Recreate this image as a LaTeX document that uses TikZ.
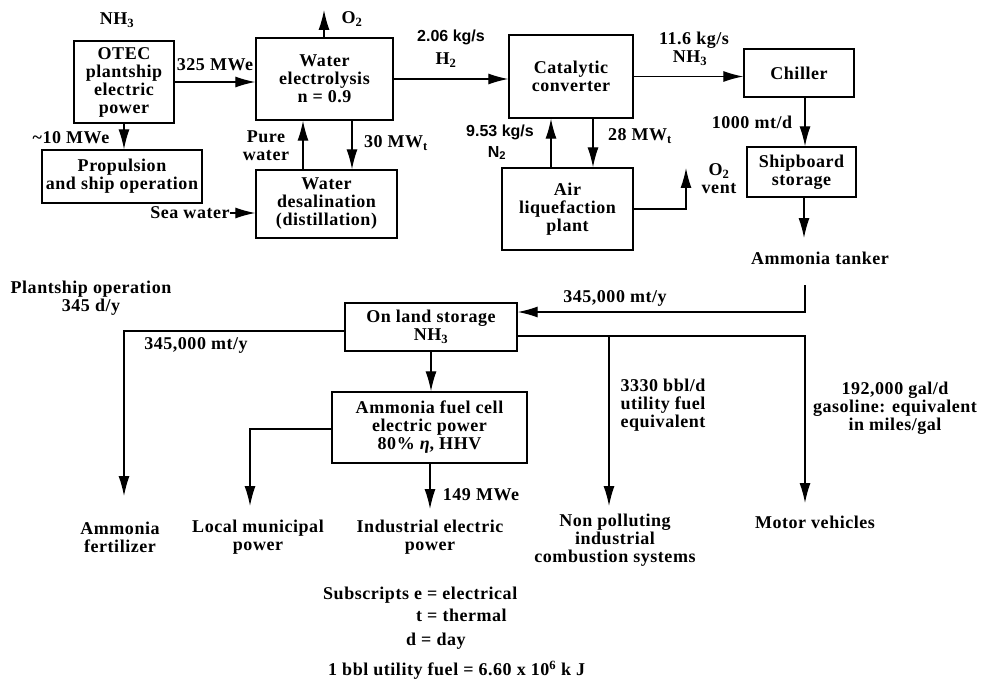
\documentclass[tikz,border=0pt]{standalone}
\usepackage{fontspec}
\setmainfont{Liberation Serif}[LetterSpace=3]
\newfontfamily\helv{Liberation Sans}
\usetikzlibrary{arrows.meta,positioning}

\tikzset{
  unit/.style={draw, line width=1.4pt, align=center, inner sep=0pt,
    font=\bfseries\fontsize{18}{18}\selectfont},
  lbl/.style={align=center, inner sep=0pt, font=\bfseries\fontsize{18}{18}\selectfont},
  slbl/.style={align=center, inner sep=0pt, font=\helv\bfseries\fontsize{16}{17}\selectfont},
  flow/.style={-{Latex[length=20pt,width=11pt]}, line width=1.3pt},
}

\begin{document}
\begin{tikzpicture}[x=1pt, y=-1pt]
        \useasboundingbox (0,0) rectangle (982,679);

        % 船上设备
        \node[unit, minimum width=100pt, minimum height=82pt] (otec) at (124,82) {OTEC\\plantship\\electric\\power};
        \node[unit, minimum width=137pt, minimum height=82pt] (elec) at (324.5,79) {Water\\electrolysis\\n = 0.9};
        \node[unit, minimum width=160pt, minimum height=53pt] (prop) at (122,176.5) {Propulsion\\and ship operation};
        \node[unit, minimum width=141pt, minimum height=68pt] (desal) at (326.5,204) {Water\\desalination\\(distillation)};
        \node[unit, minimum width=124pt, minimum height=83pt] (cat) at (571,76.5) {Catalytic\\converter};
        \node[unit, minimum width=131pt, minimum height=82pt] (air) at (567.5,209) {Air\\liquefaction\\plant};
        \node[unit, minimum width=110pt, minimum height=48pt] (chill) at (799,73) {Chiller};
        \node[unit, minimum width=109pt, minimum height=50pt] (ship) at (801.5,172) {Shipboard\\storage};

        % 陆上设备
        \node[unit, minimum width=172pt, minimum height=48pt] (land) at (431,327) {On land storage\\NH\textsubscript{3}};
        \node[unit, minimum width=195pt, minimum height=71pt] (fuel) at (429.5,427.5) {Ammonia fuel cell\\electric power\\80\% \textit{η}, HHV};

        % 标注
        \node[lbl] (nhtop) at (117,20) {NH\textsubscript{3}};
        \node[lbl] (mwa) at (215,65) {325 MWe};
        \node[lbl] (mwb) at (71,138) {\textasciitilde10 MWe};
        \node[lbl] (otwo) at (352,19) {O\textsubscript{2}};
        \node[lbl] (pure) at (266,146) {Pure\\water};
        \node[lbl] (mwc) at (396,143) {30 MW\textsubscript{t}};
        \node[lbl] (sea) at (190,213) {Sea water};
        \node[slbl] (hrate) at (451,37) {2.06 kg/s};
        \node[lbl] (htwo) at (446,60) {H\textsubscript{2}};
        \node[slbl] (nrate) at (500,132) {9.53 kg/s};
        \node[slbl] (ntwo) at (497,153) {N\textsubscript{2}};
        \node[lbl] (mwd) at (640,136) {28 MW\textsubscript{t}};
        \node[lbl] (vent) at (719,179) {O\textsubscript{2}\\vent};
        \node[lbl] (arate) at (694,40) {11.6 kg/s};
        \node[lbl] (nhmid) at (690,58) {NH\textsubscript{3}};
        \node[lbl] (daily) at (752,122) {1000 mt/d};
        \node[lbl] (tanker) at (820,258) {Ammonia tanker};
        \node[lbl] (oper) at (91,298) {Plantship operation\\345 d/y};
        \node[lbl] (yra) at (615,298) {345,000 mt/y};
        \node[lbl] (yrb) at (196,345) {345,000 mt/y};
        \node[lbl] (bbl) at (663,405) {3330 bbl/d\\utility fuel\\equivalent};
        \node[lbl] (gal) at (895,408) {192,000 gal/d\\gasoline: equivalent\\in miles/gal};
        \node[lbl] (mwe) at (481,495) {149 MWe};

        % 用途
        \node[lbl] (fert) at (120,537) {Ammonia\\fertilizer};
        \node[lbl] (muni) at (258,537) {Local municipal\\power};
        \node[lbl] (indus) at (430,537) {Industrial electric\\power};
        \node[lbl] (nonpol) at (615,540) {Non polluting\\industrial\\combustion systems};
        \node[lbl] (motor) at (815,522) {Motor vehicles};

        % 说明
        \node[lbl, anchor=west] (subs) at (323,595) {Subscripts e = electrical};
        \node[lbl, anchor=west] (subt) at (416,615) {t = thermal};
        \node[lbl, anchor=west] (subd) at (406,641) {d = day};
        \node[lbl, anchor=west] (bblnote) at (328,670) {1 bbl utility fuel = 6.60 x 10\textsuperscript{6} k J};

        % 箭头端点
        \coordinate (otwoend) at (324,10);
        \coordinate (ventend) at (686,168);
        \coordinate (tankend) at (804,238);
        \coordinate (tanktop) at (805,285);
        \coordinate (fertend) at (124,496);
        \coordinate (muniend) at (250,506);
        \coordinate (indusend) at (430,509);
        \coordinate (nonjunc) at (609,336);
        \coordinate (nonend) at (609,506);
        \coordinate (motorend) at (805,503);

        % 流程
        \draw[flow] (otec.east) -- (otec.east -| elec.west);
        \draw[flow] (elec.north -| otwoend) -- (otwoend);
        \draw[flow] (otec.south) -- (otec.south |- prop.north);
        \draw[flow] ([xshift=-23.5pt]desal.north) -- ([xshift=-23.5pt]desal.north |- elec.south);
        \draw[flow] ([xshift=27.5pt]elec.south) -- ([xshift=27.5pt]elec.south |- desal.north);
        \draw[flow] (sea.east) -- (sea.east -| desal.west);
        \draw[flow] (elec.east) -- (elec.east -| cat.west);
        \draw[flow] ([xshift=-16.5pt]air.north) -- ([xshift=-16.5pt]air.north |- cat.south);
        \draw[flow] ([xshift=22pt]cat.south) -- ([xshift=22pt]cat.south |- air.north);
        \draw[flow] (air.east) -| (ventend);
        \draw[flow] (cat.east) -- (cat.east -| chill.west);
        \draw[flow] ([xshift=6pt]chill.south) -- ([xshift=6pt]chill.south |- ship.north);
        \draw[flow] (ship.south -| tankend) -- (tankend);
        \draw[flow] (tanktop) |- ([yshift=15pt]land.east);
        \draw[flow] ([yshift=-4pt]land.west) -| (fertend);
        \draw[flow] ([yshift=-9pt]land.east) -| (motorend);
        \draw[flow] (nonjunc) -- (nonend);
        \draw[flow] (land.south) -- (land.south |- fuel.north);
        \draw[flow] ([yshift=-1.5pt]fuel.west) -| (muniend);
        \draw[flow] (fuel.south -| indusend) -- (indusend);
    \end{tikzpicture}
\end{document}
